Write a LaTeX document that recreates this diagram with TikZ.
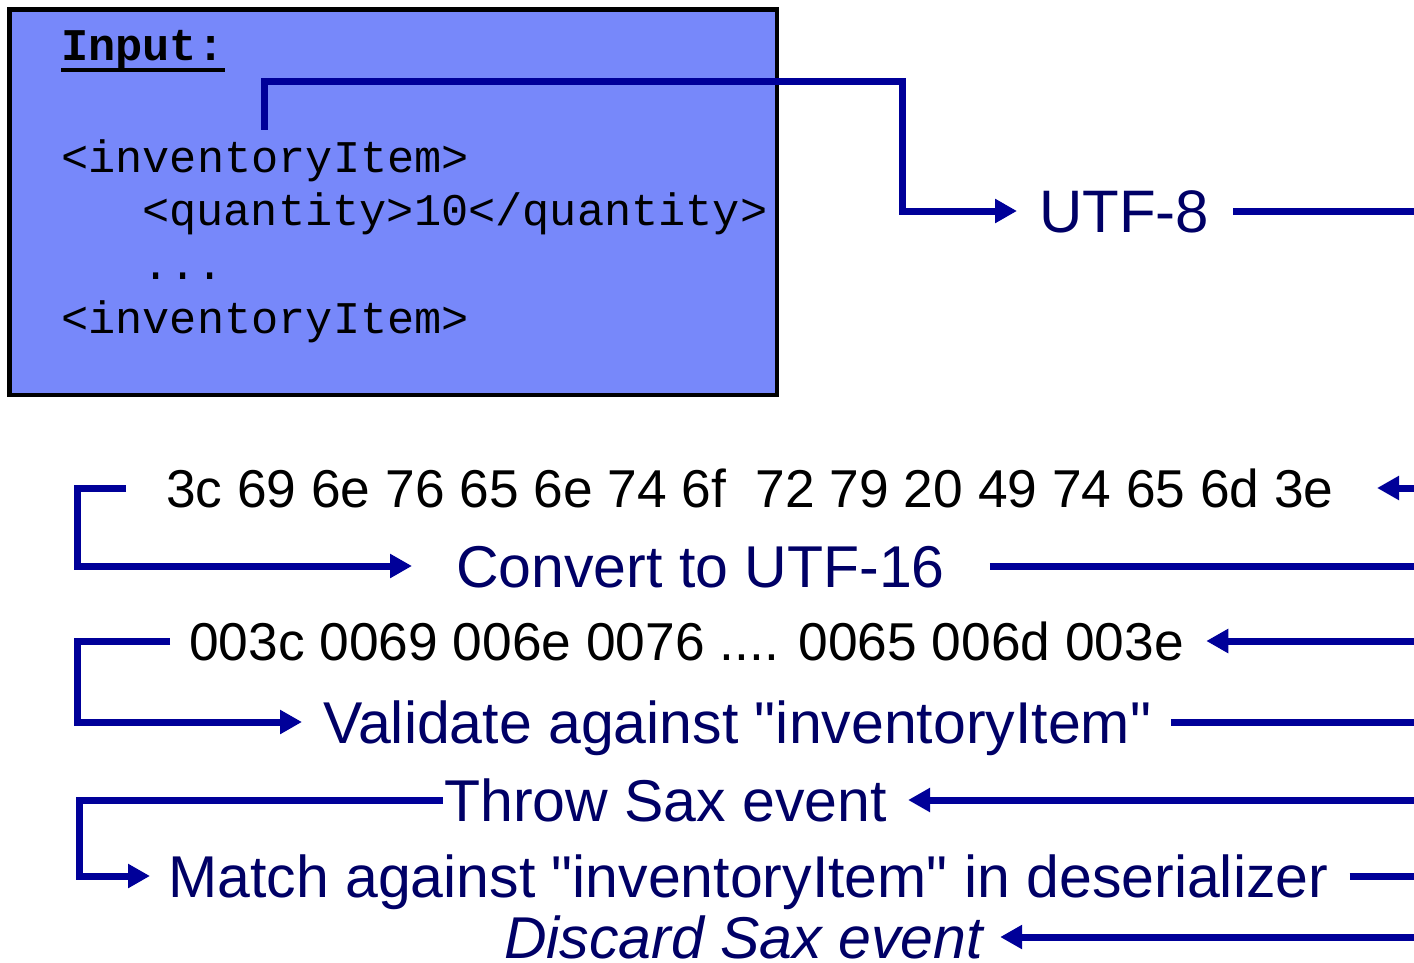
\documentclass[tikz,border=0pt]{standalone}
\usepackage{fontspec}
\setmainfont{Liberation Sans}[Ligatures=TeXOff]
\setmonofont{Liberation Mono}
\usetikzlibrary{arrows.meta}

\definecolor{boxblue}{RGB}{119,136,250}
\definecolor{linenavy}{RGB}{0,0,153}
\definecolor{textnavy}{RGB}{0,0,102}

\begin{document}
\begin{tikzpicture}[x=1pt, y=-1pt,
                    inputbox/.style={rectangle, draw=black, fill=boxblue, line width=4.5pt, minimum width=767.5pt, minimum height=385.5pt, inner sep=0pt},
                    codeline/.style={anchor=base west, inner sep=0pt, font=\fontsize{45.3}{54}\selectfont\ttfamily},
                    stepnode/.style={anchor=west, inner sep=0pt, text height=42.2pt, text depth=0pt, text=textnavy, font=\fontsize{59}{70}\selectfont},
                    hexnode/.style={stepnode, text height=38pt, text=black, font=\fontsize{53.3}{62}\selectfont},
                    conn/.style={draw=linenavy, line width=7pt},
                    arr/.style={conn, -{Triangle[length=22pt, width=23pt]}}
                ]
                    \useasboundingbox (0,0) rectangle (1414,963);
                    \coordinate (edge) at (1414,0);
                    \coordinate (lft) at (77,0);
                    \coordinate (lftb) at (79,0);

                    % input box with the xml
                    \node[inputbox] (input) at (393.25,202.25) {};
                    \node[codeline, font=\fontsize{45.3}{54}\selectfont\ttfamily\bfseries] (title) at (61,61) {Input:};
                    \draw[line width=4pt] ([yshift=-9.5pt]title.base west) -- ([yshift=-9.5pt]title.base east);
                    \node[codeline] (open) at (61,172) {<inventoryItem>};
                    \node[codeline] (qty) at (142,225) {<quantity>10</quantity>};
                    \node[codeline] (dots) at (142,279) {...};
                    \node[codeline] (close) at (61,333) {<inventoryItem>};
                    \coordinate (tap) at (264,130);
                    \coordinate (bend) at (902,82);

                    % steps
                    \node[stepnode, text height=43pt, font=\fontsize{60}{70}\selectfont] (utf) at (1039,211) {UTF-8};
                    \node[hexnode] (hexa) at (166,488) {3c 69 6e 76 65 6e 74 6f~ 72 79 20 49 74 65 6d 3e};
                    \node[stepnode] (convert) at (456,566) {Convert to UTF-16};
                    \node[hexnode] (hexb) at (189,641) {003c 0069 006e 0076 .... 0065 006d 003e};
                    \node[stepnode] (valid) at (323,722) {Validate against "inventoryItem"};
                    \node[stepnode] (throw) at (444,800) {Throw Sax event};
                    \node[stepnode] (match) at (168,876) {Match against "inventoryItem" in deserializer};
                    \node[stepnode, font=\fontsize{59}{70}\selectfont\itshape] (discard) at (504,937) {Discard Sax event};

                    % connectors
                    \draw[arr] (tap) |- (bend) |- ([xshift=-22pt]utf.west);
                    \draw[conn] ([xshift=24pt]utf.east) -- (utf.east -| edge);
                    \draw[arr] (hexa.east -| edge) -- ([xshift=43pt]hexa.east);
                    \draw[arr] ([xshift=-40pt]hexa.west) -- (hexa.west -| lft) |- ([xshift=-44pt]convert.west);
                    \draw[conn] ([xshift=45pt]convert.east) -- (convert.east -| edge);
                    \draw[arr] (hexb.east -| edge) -- ([xshift=22pt]hexb.east);
                    \draw[arr] ([xshift=-19pt]hexb.west) -- (hexb.west -| lft) |- ([xshift=-21pt]valid.west);
                    \draw[conn] ([xshift=20pt]valid.east) -- (valid.east -| edge);
                    \draw[arr] (throw.east -| edge) -- ([xshift=21pt]throw.east);
                    \draw[arr] ([xshift=-1pt]throw.west) -- (throw.west -| lftb) |- ([xshift=-18pt]match.west);
                    \draw[conn] ([xshift=21pt]match.east) -- (match.east -| edge);
                    \draw[arr] (discard.east -| edge) -- ([xshift=17pt]discard.east);
                \end{tikzpicture}
\end{document}
